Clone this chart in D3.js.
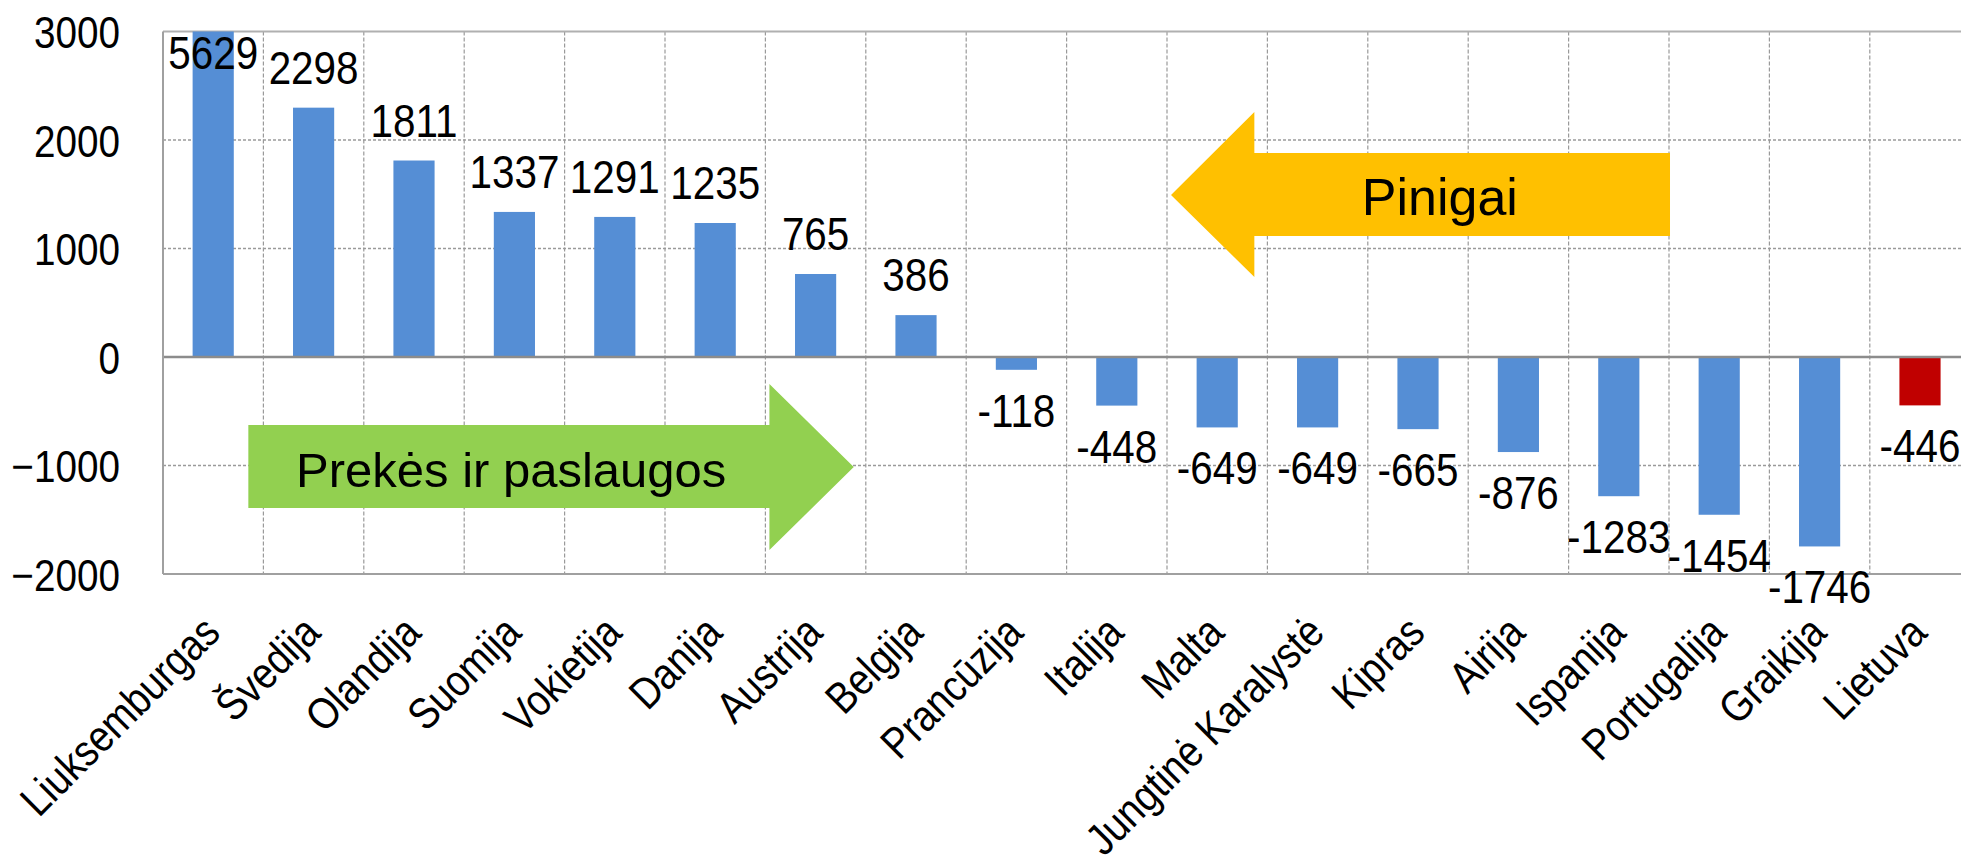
<!DOCTYPE html>
<html>
<head>
<meta charset="utf-8">
<script src="https://cdn.jsdelivr.net/npm/d3@7/dist/d3.min.js"></script>
<style>
  body { margin: 0; background: #fff; }
  figure { margin: 0; }
  text { font-family: "Liberation Sans", Arial, sans-serif; fill: #000; }
</style>
</head>
<body>
<figure id="bar"></figure>
<script>
const categories = ["Liuksemburgas", "Švedija", "Olandija", "Suomija", "Vokietija", "Danija", "Austrija", "Belgija",
  "Prancūzija", "Italija", "Malta", "Jungtinė Karalystė", "Kipras", "Airija", "Ispanija", "Portugalija", "Graikija", "Lietuva"];
const values = [5629, 2298, 1811, 1337, 1291, 1235, 765, 386, -118, -448, -649, -649, -665, -876, -1283, -1454, -1746, -446];
const highlighted = ["Lietuva"];
const yTicks = [3000, 2000, 1000, 0, -1000, -2000];
const moneyLabel = "Pinigai";
const goodsLabel = "Prekės ir paslaugos";

// arrow outlines in (category position, value) units
const moneyArrow = [[15.01, 1880], [10.87, 1880], [10.87, 2258], [10.04, 1493], [10.87, 737], [10.87, 1115], [15.01, 1115]];
const goodsArrow = [[0.85, -627], [6.04, -627], [6.04, -249], [6.88, -1014], [6.04, -1779], [6.04, -1392], [0.85, -1392]];

const width = 1961, height = 859;
const plotLeft = 163, plotTop = 31.5, plotBottom = 574;
const step = 100.4;
const plotRight = plotLeft + step * categories.length;
const narrow = 0.86;

const data = categories.map((c, i) => ({ name: c, value: values[i] }));

const svg = d3.select("figure#bar")
  .append("svg")
  .attr("width", width)
  .attr("height", height);

svg.append("rect").attr("width", width).attr("height", height).attr("fill", "#fff");

const x = d3.scaleBand()
  .domain(categories)
  .range([plotLeft, plotRight])
  .paddingInner(0.59)
  .paddingOuter(0.295);
const xPos = d3.scaleLinear().domain([0, categories.length]).range([plotLeft, plotRight]);
const y = d3.scaleLinear().domain([-2000, 3000]).range([plotBottom, plotTop]);

// grid
const grid = svg.append("g");
grid.selectAll(".hgrid")
  .data(yTicks.filter(t => t !== 0 && t !== 3000 && t !== -2000))
  .enter().append("line")
  .attr("x1", plotLeft).attr("x2", plotRight)
  .attr("y1", d => y(d)).attr("y2", d => y(d))
  .attr("stroke", "#9a9a9a").attr("stroke-width", 1.5).attr("stroke-dasharray", "3,2");
grid.selectAll(".vgrid")
  .data(d3.range(1, categories.length + 1))
  .enter().append("line")
  .attr("x1", d => xPos(d)).attr("x2", d => xPos(d))
  .attr("y1", plotTop).attr("y2", plotBottom)
  .attr("stroke", "#9a9a9a").attr("stroke-width", 1.2).attr("stroke-dasharray", "4,2");
grid.append("line")
  .attr("x1", plotLeft).attr("x2", plotRight).attr("y1", y(3000)).attr("y2", y(3000))
  .attr("stroke", "#b0b0b0").attr("stroke-width", 2);
grid.append("line")
  .attr("x1", plotLeft).attr("x2", plotRight).attr("y1", y(-2000)).attr("y2", y(-2000))
  .attr("stroke", "#a0a0a0").attr("stroke-width", 2);

// bars, clipped to the plot
svg.append("clipPath").attr("id", "plot")
  .append("rect").attr("x", plotLeft).attr("y", plotTop)
  .attr("width", plotRight - plotLeft).attr("height", plotBottom - plotTop);

svg.append("g").attr("clip-path", "url(#plot)")
  .selectAll("rect")
  .data(data)
  .enter().append("rect")
  .attr("x", d => x(d.name))
  .attr("y", d => y(Math.max(0, d.value)))
  .attr("width", x.bandwidth())
  .attr("height", d => Math.abs(y(d.value) - y(0)))
  .attr("fill", d => highlighted.includes(d.name) ? "#C00000" : "#558ED5");

// zero line and left axis
svg.append("line")
  .attr("x1", plotLeft).attr("x2", plotRight).attr("y1", y(0)).attr("y2", y(0))
  .attr("stroke", "#8c8c8c").attr("stroke-width", 2.5);
svg.append("line")
  .attr("x1", plotLeft).attr("x2", plotLeft).attr("y1", plotTop).attr("y2", plotBottom)
  .attr("stroke", "#a0a0a0").attr("stroke-width", 2);

// y axis labels
const yAxis = svg.append("g")
  .attr("transform", `translate(${plotLeft},0)`)
  .call(d3.axisLeft(y).tickValues(yTicks).tickSize(0).tickFormat(d3.format("d")));
yAxis.select(".domain").remove();
yAxis.selectAll("text")
  .attr("x", 0).attr("dy", "0.36em")
  .attr("transform", `translate(-43,0) scale(${narrow},1)`)
  .style("font-size", "45px")
  .style("font-family", "'Liberation Sans', Arial, sans-serif");

// x axis labels
const xAxis = svg.append("g")
  .attr("transform", `translate(0,${plotBottom})`)
  .call(d3.axisBottom(x).tickSize(0));
xAxis.select(".domain").remove();
xAxis.selectAll("text")
  .attr("x", 0).attr("y", 0).attr("dy", 0)
  .attr("transform", `translate(9,61) rotate(-45) scale(0.87,1)`)
  .style("text-anchor", "end")
  .style("font-size", "44px")
  .style("font-family", "'Liberation Sans', Arial, sans-serif");

// data labels
svg.append("g")
  .selectAll("text")
  .data(data)
  .enter().append("text")
  .attr("transform", d => {
    const cx = x(d.name) + x.bandwidth() / 2;
    let ly;
    if (d.value > 3000) ly = y(3000) + 37;
    else if (d.value >= 0) ly = y(d.value) - 24;
    else ly = y(d.value) + 57;
    return `translate(${cx},${ly}) scale(${narrow},1)`;
  })
  .attr("text-anchor", "middle")
  .style("font-size", "47px")
  .text(d => d.value);

// arrows
const line = d3.line().x(d => xPos(d[0])).y(d => y(d[1]));
svg.append("path").attr("d", line(moneyArrow) + "Z").attr("fill", "#FFC000");
svg.append("path").attr("d", line(goodsArrow) + "Z").attr("fill", "#92D050");

svg.append("text")
  .attr("x", xPos(11.94)).attr("y", y(1309))
  .style("font-size", "52px")
  .text(moneyLabel);
svg.append("text")
  .attr("x", xPos(1.325)).attr("y", y(-1198))
  .style("font-size", "49px")
  .text(goodsLabel);
</script>
</body>
</html>
